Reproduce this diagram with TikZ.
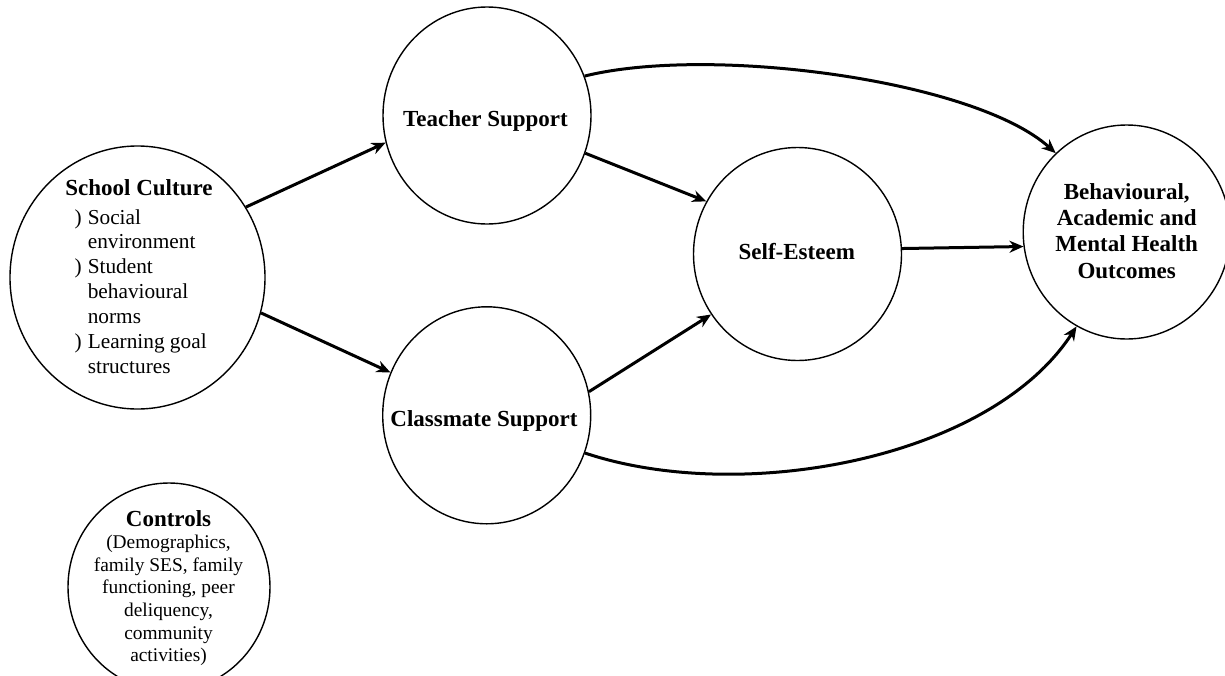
\documentclass[tikz,border=0pt]{standalone}
\usepackage{fontspec}
\setmainfont{Liberation Serif}
\usetikzlibrary{arrows.meta,shapes.geometric}

\begin{document}
\begin{tikzpicture}[x=1pt,y=-1pt,
  construct/.style={draw, ellipse, line width=1.4pt, inner sep=0pt},
  link/.style={line width=3pt, -{Stealth[length=14pt,width=12pt,inset=4.5pt]}},
  heading/.style={font=\fontsize{23}{26.3}\selectfont\bfseries, inner sep=0pt},
  body/.style={inner sep=0pt}
]
\fill[white] (0,0) rectangle (1225,675);
\useasboundingbox (0,0) rectangle (1225,675);

% constructs
\node[construct, minimum width=255pt, minimum height=263pt] (sc) at (137.5,277.5) {};
\node[construct, minimum width=208pt, minimum height=217pt] (ts) at (487,115.5) {};
\node[construct, minimum width=208pt, minimum height=217pt] (cs) at (486.7,415.3) {};
\node[construct, minimum width=208pt, minimum height=213pt] (se) at (797.5,254) {};
\node[construct, minimum width=207pt, minimum height=214pt] (oc) at (1126.7,232) {};
\node[construct, minimum width=202pt, minimum height=208pt] (ct) at (169,587) {};

% labels
\node[heading, anchor=base] (sc-title) at (139,195) {School Culture};
\node[body, anchor=base west, font=\fontsize{21.3}{24.9}\selectfont] (sc-list) at (74.5,224)
  {\begin{tabular}[t]{@{}l@{\hspace{6pt}}l@{}}
   ) & Social\\
     & environment\\
   ) & Student\\
     & behavioural\\
     & norms\\
   ) & Learning goal\\
     & structures
   \end{tabular}};
\node[heading, anchor=base] (ts-text) at (485.5,126.7) {Teacher Support};
\node[heading, anchor=base] (cs-text) at (484,426.7) {Classmate Support};
\node[heading, anchor=base] (se-text) at (796.8,259) {Self-Esteem};
\node[heading, anchor=base] (oc-text) at (1126.7,199.3)
  {\begin{tabular}[t]{@{}c@{}}
   Behavioural,\\ Academic and\\ Mental Health\\ Outcomes
   \end{tabular}};
\node[body, anchor=base, font=\fontsize{19.4}{22.6}\selectfont] (ct-text) at (168.5,526)
  {\begin{tabular}[t]{@{}c@{}}
   {\fontsize{23}{22.6}\selectfont\bfseries Controls}\\
   (Demographics,\\ family SES, family\\ functioning, peer\\
   deliquency,\\ community\\ activities)
   \end{tabular}};

% paths
\draw[link] (sc.33.2) -- (ts.195.9);
\draw[link] (sc.344.4) -- (cs.156.7);
\draw[link] (ts.339.9) -- (se.150.2);
\draw[link] (cs.13.1) -- (se.215.4);
\draw[link] (se.3.3) -- (oc.188.8);
\draw[link] (ts.22.1) .. controls (710,45) and (975,80) .. (oc.132);
\draw[link] (cs.339) .. controls (740,505) and (990,460) .. (oc.242);
\end{tikzpicture}
\end{document}
